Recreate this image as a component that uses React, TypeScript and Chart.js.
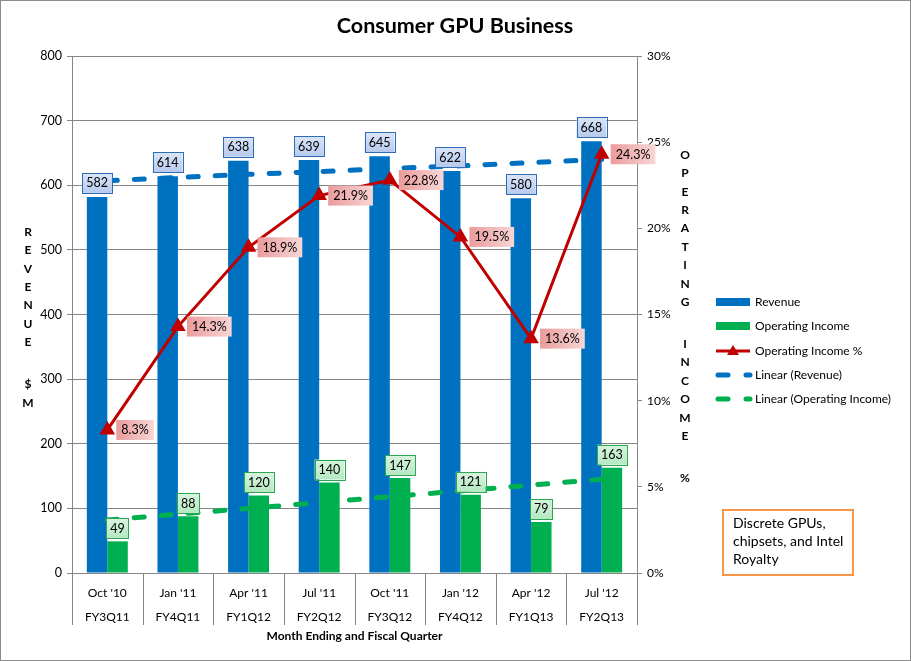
import { useEffect, useRef } from 'react';
import { Chart, registerables } from 'chart.js';

Chart.register(...registerables);

const months = ["Oct '10", "Jan '11", "Apr '11", "Jul '11", "Oct '11", "Jan '12", "Apr '12", "Jul '12"];
const quarters = ['FY3Q11', 'FY4Q11', 'FY1Q12', 'FY2Q12', 'FY3Q12', 'FY4Q12', 'FY1Q13', 'FY2Q13'];
const revenue = [582, 614, 638, 639, 645, 622, 580, 668];
const operatingIncome = [49, 88, 120, 140, 147, 121, 79, 163];
const operatingPct = [8.3, 14.3, 18.9, 21.9, 22.8, 19.5, 13.6, 24.3];
// trend lines
const revenueTrend = [607, 612, 617, 621, 626, 630, 635, 640];
const incomeTrend = [82, 91, 100, 109, 118, 127, 136, 145];

const BLUE = '#0070c0';
const GREEN = '#00b050';
const RED = '#c00000';
const GRID = '#868686';
const FONT = 'Lato, "Noto Sans", sans-serif';

function roundBox(ctx: CanvasRenderingContext2D, x: number, y: number, w: number, h: number,
  fill: CanvasGradient | string, stroke: string | null) {
  ctx.fillStyle = fill;
  ctx.fillRect(x, y, w, h);
  if (stroke) {
    ctx.strokeStyle = stroke;
    ctx.lineWidth = 1;
    ctx.strokeRect(Math.round(x) + 0.5, Math.round(y) + 0.5, Math.round(w), Math.round(h));
  }
}

// stacked letters, groups separated by a wider gap
function stacked(ctx: CanvasRenderingContext2D, groups: string[], x: number, y0: number, step: number, gap: number) {
  let y = y0;
  groups.forEach((g, gi) => {
    if (gi > 0) y += gap - step;
    for (const c of g) {
      ctx.fillText(c, x, y);
      y += step;
    }
  });
}

const decorations = {
  id: 'decorations',
  afterDraw(chart: Chart) {
    const { ctx, chartArea } = chart;
    const x = chart.scales.x;
    ctx.save();

    // category separators below the axis
    ctx.strokeStyle = GRID;
    ctx.lineWidth = 1;
    for (let i = 0; i <= months.length; i++) {
      const px = Math.round(x.getPixelForValue(i - 0.5)) + 0.5;
      ctx.beginPath();
      ctx.moveTo(px, chartArea.bottom);
      ctx.lineTo(px, chartArea.bottom + 52);
      ctx.stroke();
    }

    // data labels
    ctx.font = `12.5px ${FONT}`;
    ctx.textAlign = 'center';
    ctx.textBaseline = 'middle';
    const revMeta = chart.getDatasetMeta(3);
    const incMeta = chart.getDatasetMeta(4);
    const pctMeta = chart.getDatasetMeta(0);
    revMeta.data.forEach((el: any, i) => {
      const t = String(revenue[i]);
      const w = ctx.measureText(t).width + 8;
      const h = 20;
      const bx = el.x - w / 2;
      const by = el.y - 4 - h;
      const g = ctx.createLinearGradient(0, by, 0, by + h);
      g.addColorStop(0, '#dbe5f7');
      g.addColorStop(1, '#b7caee');
      roundBox(ctx, bx, by, w, h, g, '#2e6db4');
      ctx.fillStyle = '#000';
      ctx.fillText(t, el.x, by + h / 2 + 0.5);
    });
    incMeta.data.forEach((el: any, i) => {
      const t = String(operatingIncome[i]);
      const w = ctx.measureText(t).width + 8;
      const h = 20;
      const bx = el.x - w / 2;
      const by = el.y - 3 - h;
      const g = ctx.createLinearGradient(0, by, 0, by + h);
      g.addColorStop(0, '#d9f4df');
      g.addColorStop(1, '#b4e8c2');
      roundBox(ctx, bx, by, w, h, g, '#2ea553');
      ctx.fillStyle = '#000';
      ctx.fillText(t, el.x, by + h / 2 + 0.5);
    });
    pctMeta.data.forEach((el: any, i) => {
      const t = `${operatingPct[i].toFixed(1)}%`;
      const w = ctx.measureText(t).width + 10;
      const h = 20;
      const bx = el.x + 9;
      const by = el.y - h / 2;
      const g = ctx.createLinearGradient(bx, 0, bx + w, 0);
      g.addColorStop(0, '#eb9b9b');
      g.addColorStop(1, '#f7d6d6');
      roundBox(ctx, bx, by, w, h, g, null);
      ctx.fillStyle = '#000';
      ctx.fillText(t, bx + w / 2, el.y + 0.5);
    });

    // title
    ctx.fillStyle = '#000';
    ctx.font = `bold 21.5px ${FONT}`;
    ctx.fillText('Consumer GPU Business', 455, 26);

    // stacked axis titles
    ctx.font = `bold 12px ${FONT}`;
    stacked(ctx, ['REVENUE', '$M'], 28, 232, 18.4, 42);
    stacked(ctx, ['OPERATING', 'INCOME', '%'], 685, 155, 18.4, 42);

    // legend
    ctx.font = `12px ${FONT}`;
    ctx.textAlign = 'left';
    const lx = 716;
    const ly = [302, 326, 351, 375, 399];
    const names = ['Revenue', 'Operating Income', 'Operating Income %', 'Linear (Revenue)', 'Linear (Operating Income)'];
    ctx.fillStyle = BLUE;
    ctx.fillRect(lx, ly[0] - 4, 34, 8);
    ctx.fillStyle = GREEN;
    ctx.fillRect(lx, ly[1] - 4, 34, 8);
    ctx.strokeStyle = RED;
    ctx.lineWidth = 3;
    ctx.beginPath();
    ctx.moveTo(lx, ly[2]);
    ctx.lineTo(lx + 34, ly[2]);
    ctx.stroke();
    ctx.fillStyle = RED;
    ctx.beginPath();
    ctx.moveTo(lx + 17, ly[2] - 6);
    ctx.lineTo(lx + 23, ly[2] + 4);
    ctx.lineTo(lx + 11, ly[2] + 4);
    ctx.closePath();
    ctx.fill();
    [[ly[3], BLUE], [ly[4], GREEN]].forEach(([yy, col]) => {
      ctx.strokeStyle = col as string;
      ctx.lineWidth = 5;
      ctx.lineCap = 'round';
      ctx.beginPath();
      ctx.moveTo(lx + 2, yy as number);
      ctx.lineTo(lx + 12, yy as number);
      ctx.moveTo(lx + 30, yy as number);
      ctx.lineTo(lx + 34, yy as number);
      ctx.stroke();
    });
    ctx.lineCap = 'butt';
    ctx.fillStyle = '#000';
    ctx.textBaseline = 'middle';
    names.forEach((n, i) => ctx.fillText(n, lx + 39, ly[i]));

    // note box
    ctx.strokeStyle = '#f79646';
    ctx.lineWidth = 2;
    ctx.strokeRect(723, 510, 130, 65);
    ctx.font = `14px ${FONT}`;
    ['Discrete GPUs,', 'chipsets, and Intel', 'Royalty'].forEach((s, i) => ctx.fillText(s, 733, 523 + i * 18));

    // outer frame
    ctx.strokeStyle = '#8c8c8c';
    ctx.lineWidth = 1;
    ctx.strokeRect(0.5, 0.5, 910, 660);
    ctx.restore();
  },
};

export default function App() {
  const canvasRef = useRef<HTMLCanvasElement>(null);
  const chartRef = useRef<Chart | null>(null);

  useEffect(() => {
    if (!canvasRef.current) return;
    if (chartRef.current) chartRef.current.destroy();
    Chart.defaults.font.family = FONT;
    Chart.defaults.color = '#000';

    chartRef.current = new Chart(canvasRef.current, {
      type: 'bar',
      data: {
        labels: months.map((m, i) => [m, quarters[i]]),
        datasets: [
          {
            type: 'line',
            label: 'Operating Income %',
            data: operatingPct,
            yAxisID: 'y1',
            borderColor: RED,
            backgroundColor: RED,
            borderWidth: 3,
            pointStyle: 'triangle',
            pointRadius: 6,
            pointBackgroundColor: RED,
            pointBorderColor: RED,
            tension: 0,
            order: 0,
          },
          {
            type: 'line',
            label: 'Linear (Revenue)',
            data: revenueTrend,
            yAxisID: 'y',
            borderColor: BLUE,
            borderWidth: 5,
            borderDash: [10, 17],
            borderCapStyle: 'round',
            pointRadius: 0,
            order: 1,
          },
          {
            type: 'line',
            label: 'Linear (Operating Income)',
            data: incomeTrend,
            yAxisID: 'y',
            borderColor: GREEN,
            borderWidth: 5,
            borderDash: [10, 17],
            borderCapStyle: 'round',
            pointRadius: 0,
            order: 1,
          },
          {
            label: 'Revenue',
            data: revenue,
            yAxisID: 'y',
            backgroundColor: BLUE,
            categoryPercentage: 0.58,
            barPercentage: 1,
            order: 2,
          },
          {
            label: 'Operating Income',
            data: operatingIncome,
            yAxisID: 'y',
            backgroundColor: GREEN,
            categoryPercentage: 0.58,
            barPercentage: 1,
            order: 2,
          },
        ],
      },
      options: {
        responsive: false,
        animation: false,
        layout: { padding: { top: 56, bottom: 14, left: 0, right: 0 } },
        plugins: {
          legend: { display: false },
          title: { display: false },
          tooltip: { enabled: false },
        },
        scales: {
          x: {
            grid: { display: false },
            border: { display: true, color: GRID },
            ticks: { font: { size: 12, lineHeight: 2 }, padding: 0, maxRotation: 0 },
            title: {
              display: true,
              text: 'Month Ending and Fiscal Quarter',
              font: { size: 12, weight: 'bold' },
              padding: { top: 0, bottom: 4 },
            },
            afterFit: (s: any) => { s.height = 74; },
          },
          y: {
            position: 'left',
            min: 0,
            max: 800,
            ticks: { stepSize: 100, font: { size: 12.5 }, padding: 5 },
            grid: { color: GRID, tickLength: 5 },
            border: { display: true, color: GRID },
            afterFit: (s: any) => { s.width = 72; },
          },
          y1: {
            position: 'right',
            min: 0,
            max: 30,
            ticks: { stepSize: 5, font: { size: 12 }, padding: 5, callback: (v: any) => `${v}%` },
            grid: { drawOnChartArea: false, color: GRID, tickLength: 5 },
            border: { display: true, color: GRID },
            afterFit: (s: any) => { s.width = 274; },
          },
        },
      },
      plugins: [decorations],
    });

    return () => chartRef.current?.destroy();
  }, []);

  return (
    <div style={{ position: 'fixed', left: 0, top: 0, width: 911, height: 661, background: '#fff' }}>
      <canvas ref={canvasRef} width={911} height={661} />
    </div>
  );
}
